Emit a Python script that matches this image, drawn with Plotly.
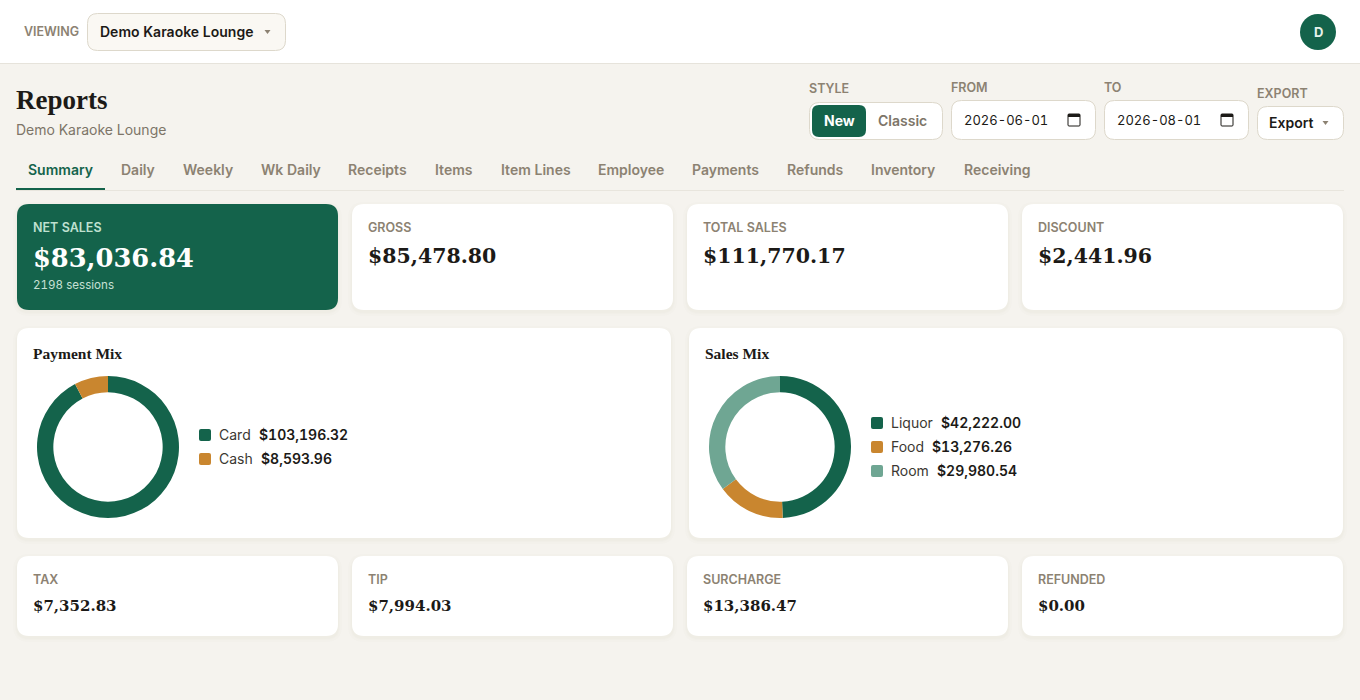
import plotly.graph_objects as go

W = 1360
H = 700

GREEN = "#14634b"
AMBER = "#c9862f"
SAGE = "#6fa693"
BG = "#f5f3ee"
INK = "#1c1a17"
MUTED = "#8c8272"
BORDER = "#ddd8cb"
SANS = "Inter"
SERIF = "Liberation Serif"
NUM_SERIF = "DejaVu Serif"

tabs = ["Summary", "Daily", "Weekly", "Wk Daily", "Receipts", "Items", "Item Lines",
        "Employee", "Payments", "Refunds", "Inventory", "Receiving"]
tab_x = [28, 121, 183, 261, 348, 435, 501, 598, 692, 787, 871, 964]

top_labels = ["NET SALES", "GROSS", "TOTAL SALES", "DISCOUNT"]
top_values = ["$83,036.84", "$85,478.80", "$111,770.17", "$2,441.96"]
bottom_labels = ["TAX", "TIP", "SURCHARGE", "REFUNDED"]
bottom_values = ["$7,352.83", "$7,994.03", "$13,386.47", "$0.00"]

payment_labels = ["Card", "Cash"]
payment_values = [103196.32, 8593.96]
payment_colors = [GREEN, AMBER]
sales_labels = ["Liquor", "Food", "Room"]
sales_values = [42222.00, 13276.26, 29980.54]
sales_colors = [GREEN, AMBER, SAGE]

card_x = [17, 352, 687, 1022]
card_w = 321

shapes = []
notes = []


def px(x):
    return x / W


def py(y):
    return 1 - y / H


def rounded(x0, y0, x1, y1, r):
    return (f"M {px(x0 + r)} {py(y0)} L {px(x1 - r)} {py(y0)} "
            f"Q {px(x1)} {py(y0)} {px(x1)} {py(y0 + r)} L {px(x1)} {py(y1 - r)} "
            f"Q {px(x1)} {py(y1)} {px(x1 - r)} {py(y1)} L {px(x0 + r)} {py(y1)} "
            f"Q {px(x0)} {py(y1)} {px(x0)} {py(y1 - r)} L {px(x0)} {py(y0 + r)} "
            f"Q {px(x0)} {py(y0)} {px(x0 + r)} {py(y0)} Z")


def box(x0, y0, x1, y1, r, fill, line=None):
    shapes.append(dict(type="path", xref="paper", yref="paper", layer="below",
                       path=rounded(x0, y0, x1, y1, r),
                       fillcolor=fill, line=dict(color=line or fill, width=1 if line else 0)))


def card(x0, y0, x1, y1, fill="#ffffff"):
    # soft shadow, a few stacked translucent boxes
    for grow in [4, 2, 1]:
        shapes.append(dict(type="path", xref="paper", yref="paper", layer="below",
                           path=rounded(x0 - grow, y0 - grow + 2, x1 + grow, y1 + grow + 2, 12 + grow),
                           fillcolor="rgba(60,50,30,0.012)", line=dict(width=0)))
    box(x0, y0, x1, y1, 12, fill)


def label(x, y, s, size=14, color=INK, font=SANS, weight=400, anchor="left"):
    notes.append(dict(x=px(x), y=py(y), xref="paper", yref="paper", text=s, showarrow=False,
                      xanchor=anchor, yanchor="middle", borderpad=0, borderwidth=0, align=anchor,
                      font=dict(family=font, size=size, color=color, weight=weight)))


def caret(x, y, color):
    shapes.append(dict(type="path", xref="paper", yref="paper", layer="below",
                       path=f"M {px(x - 3)} {py(y - 2)} L {px(x + 3)} {py(y - 2)} L {px(x)} {py(y + 2)} Z",
                       fillcolor=color, line=dict(width=0)))


def calendar(x, y):
    box(x, y, x + 12, y + 12, 1, "#ffffff", "#1c1a17")
    box(x, y, x + 12, y + 3, 0, "#1c1a17")


# top bar
shapes.append(dict(type="rect", xref="paper", yref="paper", layer="below", x0=0, x1=1, y0=py(63), y1=1,
                   fillcolor="#ffffff", line=dict(width=0)))
shapes.append(dict(type="line", xref="paper", yref="paper", layer="below", x0=0, x1=1, y0=py(63.5), y1=py(63.5),
                   line=dict(color="#e6e3db", width=1)))
label(24, 31.5, "VIEWING", 12.5, MUTED, weight=600)
box(87.5, 13.5, 285.5, 50.5, 10, "#faf8f3", BORDER)
label(100, 31.5, "Demo Karaoke Lounge", 14, INK, weight=600)
caret(267.5, 32, MUTED)
shapes.append(dict(type="circle", xref="paper", yref="paper", layer="below",
                   x0=px(1300), x1=px(1336), y0=py(50), y1=py(14),
                   fillcolor=GREEN, line=dict(width=0)))
label(1318, 31.5, "D", 13, "#e6f2ec", weight=700, anchor="center")

# page head
label(16, 100, "Reports", 27, INK, SERIF, 700)
label(16, 129.5, "Demo Karaoke Lounge", 14, "#7d7568")

# controls
label(809, 89, "STYLE", 12.5, MUTED, weight=600)
box(809.5, 102.5, 942.5, 139.5, 10, "#ffffff", BORDER)
box(812, 105, 866, 137, 7, GREEN)
label(839, 120.5, "New", 14, "#ffffff", weight=700, anchor="center")
label(878, 120.5, "Classic", 14, "#7d7568", weight=600)
label(951, 87, "FROM", 12.5, MUTED, weight=600)
box(951.5, 100.5, 1095.5, 139.5, 10, "#ffffff", BORDER)
label(964, 119.5, "2026-06-01", 13, INK)
calendar(1068, 114)
label(1104, 87, "TO", 12.5, MUTED, weight=600)
box(1104.5, 100.5, 1248.5, 139.5, 10, "#ffffff", BORDER)
label(1117, 119.5, "2026-08-01", 13, INK)
calendar(1221, 114)
label(1257, 93, "EXPORT", 12.5, MUTED, weight=600)
box(1257.5, 106.5, 1343.5, 139.5, 10, "#ffffff", BORDER)
label(1269, 122.5, "Export", 14, INK, weight=600)
caret(1325.5, 123, MUTED)

# tabs
for i in range(len(tabs)):
    label(tab_x[i], 169.5, tabs[i], 14, GREEN if i == 0 else MUTED, weight=600)
shapes.append(dict(type="line", xref="paper", yref="paper", layer="below",
                   x0=px(16), x1=px(1344), y0=py(190.5), y1=py(190.5),
                   line=dict(color="#e8e5dd", width=1)))
box(16, 188, 105, 190, 0, GREEN)

# top cards
for i in range(4):
    x = card_x[i]
    hero = i == 0
    card(x, 204, x + card_w, 310, GREEN if hero else "#ffffff")
    label(x + 16, 227, top_labels[i], 12.5, "#bfe0d0" if hero else MUTED, weight=600)
    label(x + 16, 258 if hero else 255.5, top_values[i], 25.7 if hero else 20.5, "#ffffff" if hero else INK, NUM_SERIF, 700)
label(33, 285, "2198 sessions", 11.6, "#c6e0d4")

# mix cards
card(17, 328, 671, 538)
card(689, 328, 1343, 538)
label(33, 354, "Payment Mix", 15.5, INK, SERIF, 700)
label(705, 354, "Sales Mix", 15.5, INK, SERIF, 700)


def mix_legend(x, y, names, values, colors, value_x):
    for i in range(len(names)):
        box(x, y + i * 24 - 6, x + 12, y + i * 24 + 6, 2, colors[i])
        label(x + 20, y + i * 24 - 0.5, names[i], 14, "#3b3832")
        label(value_x[i], y + i * 24 - 0.5, f"${values[i]:,.2f}", 14, INK, weight=600)


mix_legend(199, 435, payment_labels, payment_values, payment_colors, [259, 261])
mix_legend(871, 423, sales_labels, sales_values, sales_colors, [941, 932, 937])

# bottom cards
for i in range(4):
    x = card_x[i]
    card(x, 556, x + card_w, 636)
    label(x + 16, 579, bottom_labels[i], 12.5, MUTED, weight=600)
    label(x + 16, 605.5, bottom_values[i], 15, INK, NUM_SERIF, 700)


def donut(names, values, colors, x0, x1):
    return go.Pie(labels=names, values=values, sort=False, direction="clockwise", rotation=0, hole=0.77,
                  marker=dict(colors=colors, line=dict(width=0)), textinfo="none", showlegend=False,
                  hoverinfo="label+value",
                  domain=dict(x=[px(x0), px(x1)], y=[py(518), py(376)]))


fig = go.Figure([
    donut(payment_labels, payment_values, payment_colors, 37, 179),
    donut(sales_labels, sales_values, sales_colors, 709, 851),
])
fig.update_layout(width=W, height=H, margin=dict(l=0, r=0, t=0, b=0), paper_bgcolor=BG, plot_bgcolor=BG,
                  shapes=shapes, annotations=notes, font=dict(family=SANS))

# page margin off, tabular digits like the app uses
post = ("document.body.style.margin='0';document.body.style.background='" + BG + "';"
        "var st=document.createElement('style');"
        "st.textContent='.annotation-text{font-feature-settings:\"tnum\"}';"
        "document.head.appendChild(st);")
fig.write_html("out.html", config=dict(displayModeBar=False), post_script=post)
